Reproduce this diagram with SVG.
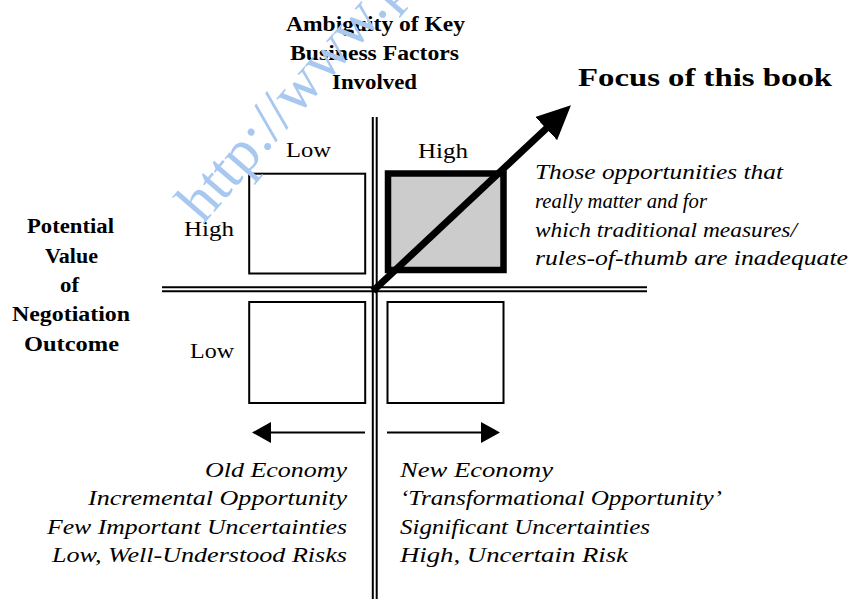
<svg xmlns="http://www.w3.org/2000/svg" width="851" height="599" viewBox="0 0 851 599">
<style>
  text { font-family: "Liberation Serif", "Times New Roman", serif; fill: #000; }
  .hd { font-weight: bold; font-size: 20px; }
  .big { font-weight: bold; font-size: 26px; }
  .lbl { font-size: 21px; }
  .it { font-style: italic; font-size: 22px; }
  .axis { stroke: #000; stroke-width: 2; fill: none; }
  .box { fill: #fff; stroke: #000; stroke-width: 2; }
  .focus { fill: #cccccc; stroke: #000; stroke-width: 6.5; }
  .conn { stroke: #000; fill: none; }
  .wm { font-size: 60px; fill: #a8c8f0; }
</style>
<defs>
  <marker id="bigHead" markerUnits="userSpaceOnUse" viewBox="0 0 34 32" refX="2" refY="16" markerWidth="34" markerHeight="32" orient="auto">
    <path d="M0,0 L34,16 L0,32 z" fill="#000"/>
  </marker>
  <marker id="smallHead" markerUnits="userSpaceOnUse" viewBox="0 0 19 21" refX="1" refY="10.5" markerWidth="19" markerHeight="21" orient="auto">
    <path d="M0,0 L19,10.5 L0,21 z" fill="#000"/>
  </marker>
</defs>
<rect width="851" height="599" fill="#fff"/>

<g id="axes">
  <line class="axis" x1="372.8" y1="117" x2="372.8" y2="599"/>
  <line class="axis" x1="376.7" y1="117" x2="376.7" y2="599"/>
  <line class="axis" x1="162" y1="287.2" x2="647" y2="287.2"/>
  <line class="axis" x1="162" y1="291.2" x2="647" y2="291.2"/>
</g>

<g id="box-low-high">
  <rect class="box" x="249.2" y="173.7" width="116" height="99.8"/>
</g>
<g id="box-high-high">
  <rect class="focus" x="388" y="173.5" width="115.5" height="96.5"/>
</g>
<g id="box-low-low">
  <rect class="box" x="249.2" y="302" width="116" height="101"/>
</g>
<g id="box-high-low">
  <rect class="box" x="387.5" y="302" width="116" height="101"/>
</g>

<g id="connectors">
  <line class="conn" stroke-width="7" x1="373" y1="291" x2="547.6" y2="127.2" marker-end="url(#bigHead)"/>
  <line class="conn" stroke-width="2" x1="365" y1="432.5" x2="270" y2="432.5" marker-end="url(#smallHead)"/>
  <line class="conn" stroke-width="2" x1="387" y1="432.5" x2="482" y2="432.5" marker-end="url(#smallHead)"/>
</g>

<g id="title-ambiguity">
  <text class="hd" x="286" y="31" textLength="179" lengthAdjust="spacingAndGlyphs">Ambiguity of Key</text>
  <text class="hd" x="290" y="60" textLength="169" lengthAdjust="spacingAndGlyphs">Business Factors</text>
  <text class="hd" x="332" y="89" textLength="85" lengthAdjust="spacingAndGlyphs">Involved</text>
</g>

<g id="title-focus">
  <text class="big" x="578" y="86" textLength="254" lengthAdjust="spacingAndGlyphs">Focus of this book</text>
</g>

<g id="title-potential">
  <text class="hd" x="27" y="233" textLength="87" lengthAdjust="spacingAndGlyphs">Potential</text>
  <text class="hd" x="45" y="263" textLength="53" lengthAdjust="spacingAndGlyphs">Value</text>
  <text class="hd" x="60" y="292" textLength="19" lengthAdjust="spacingAndGlyphs">of</text>
  <text class="hd" x="12" y="321" textLength="118" lengthAdjust="spacingAndGlyphs">Negotiation</text>
  <text class="hd" x="24" y="351" textLength="95" lengthAdjust="spacingAndGlyphs">Outcome</text>
</g>

<g id="axis-labels">
  <text class="lbl" x="286" y="157" textLength="45" lengthAdjust="spacingAndGlyphs">Low</text>
  <text class="lbl" x="418" y="158" textLength="50" lengthAdjust="spacingAndGlyphs">High</text>
  <text class="lbl" x="184" y="236" textLength="50" lengthAdjust="spacingAndGlyphs">High</text>
  <text class="lbl" x="190" y="358" textLength="44" lengthAdjust="spacingAndGlyphs">Low</text>
</g>

<g id="focus-note">
  <text class="it" x="535" y="179" textLength="248" lengthAdjust="spacingAndGlyphs">Those opportunities that</text>
  <text class="it" x="535" y="208" textLength="172" lengthAdjust="spacingAndGlyphs">really matter and for</text>
  <text class="it" x="535" y="237" textLength="262" lengthAdjust="spacingAndGlyphs">which traditional measures/</text>
  <text class="it" x="535" y="265" textLength="313" lengthAdjust="spacingAndGlyphs">rules-of-thumb are inadequate</text>
</g>

<g id="old-economy">
  <text class="it" x="205" y="477" textLength="142" lengthAdjust="spacingAndGlyphs">Old Economy</text>
  <text class="it" x="88" y="505" textLength="259" lengthAdjust="spacingAndGlyphs">Incremental Opportunity</text>
  <text class="it" x="47" y="534" textLength="300" lengthAdjust="spacingAndGlyphs">Few Important Uncertainties</text>
  <text class="it" x="52" y="562" textLength="295" lengthAdjust="spacingAndGlyphs">Low, Well-Understood Risks</text>
</g>

<g id="new-economy">
  <text class="it" x="400" y="477" textLength="153" lengthAdjust="spacingAndGlyphs">New Economy</text>
  <text class="it" x="400" y="505" textLength="322" lengthAdjust="spacingAndGlyphs">‘Transformational Opportunity’</text>
  <text class="it" x="400" y="534" textLength="250" lengthAdjust="spacingAndGlyphs">Significant Uncertainties</text>
  <text class="it" x="400" y="562" textLength="228" lengthAdjust="spacingAndGlyphs">High, Uncertain Risk</text>
</g>

<g id="watermark">
  <text class="wm" x="203" y="225" transform="rotate(-49 203 225)">http://www.p</text>
</g>
</svg>
